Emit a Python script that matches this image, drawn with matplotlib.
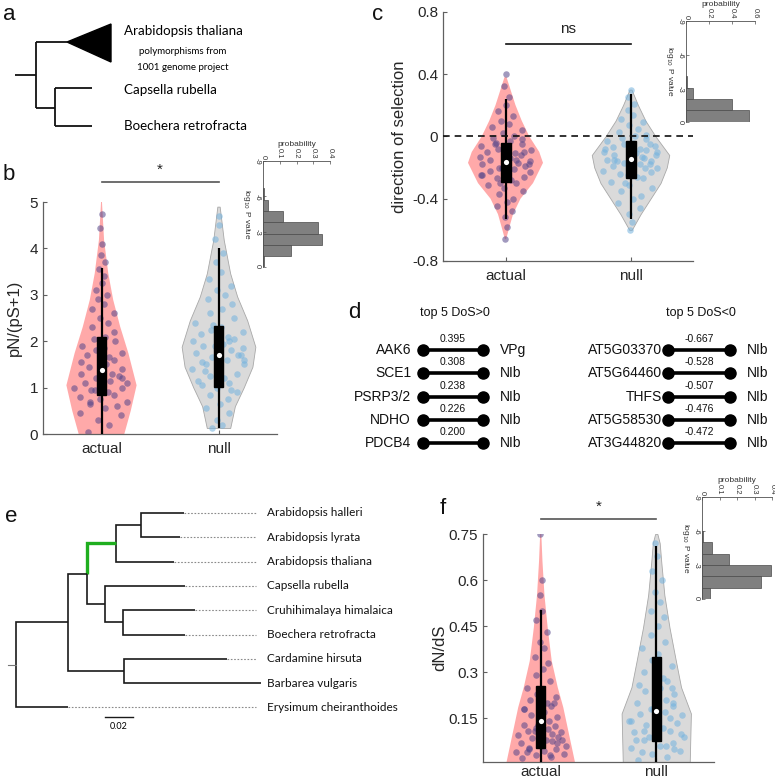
import matplotlib

matplotlib.use("Agg")
import matplotlib.pyplot as plt
import numpy as np
from matplotlib.patches import Polygon, Rectangle

plt.rcParams["font.family"] = ["Liberation Sans", "DejaVu Sans"]
TREE_FONT = ["Lato", "DejaVu Sans"]

W, H = 775, 782

# ---------------- data ----------------
groups = ["actual", "null"]

# violin outlines: y levels and half widths (x units)
b_act_lv = [0.0, 0.5, 1.05, 1.74, 2.31, 2.89, 3.46, 4.18, 5.0]
b_act_hw = [0.195, 0.25, 0.30, 0.23, 0.16, 0.10, 0.058, 0.022, 0.004]
b_null_lv = [0.13, 0.6, 1.0, 1.45, 1.88, 2.45, 2.96, 3.46, 4.18, 4.9]
b_null_hw = [0.10, 0.14, 0.215, 0.29, 0.315, 0.245, 0.16, 0.10, 0.045, 0.01]

c_act_lv = [-0.66, -0.6, -0.5, -0.4, -0.3, -0.17, -0.1, 0.0, 0.1, 0.2, 0.3, 0.38]
c_act_hw = [0.005, 0.025, 0.06, 0.12, 0.22, 0.30, 0.27, 0.19, 0.13, 0.08, 0.04, 0.008]
c_null_lv = [-0.6, -0.5, -0.4, -0.3, -0.2, -0.12, 0.0, 0.1, 0.2, 0.3]
c_null_hw = [0.01, 0.08, 0.16, 0.24, 0.29, 0.31, 0.2, 0.12, 0.06, 0.008]

f_act_lv = [0.008, 0.186, 0.251, 0.337, 0.445, 0.552, 0.66, 0.75]
f_act_hw = [0.296, 0.195, 0.147, 0.095, 0.06, 0.032, 0.015, 0.005]
f_null_lv = [0.008, 0.166, 0.251, 0.337, 0.445, 0.552, 0.66, 0.72, 0.75]
f_null_hw = [0.29, 0.30, 0.215, 0.17, 0.115, 0.07, 0.043, 0.03, 0.01]

# box stats: lower whisker, q1, median, q3, upper whisker
b_act_box = [0.0, 0.84, 1.38, 2.09, 3.57]
b_null_box = [0.12, 1.01, 1.70, 2.32, 4.0]
c_act_box = [-0.53, -0.29, -0.165, -0.04, 0.24]
c_null_box = [-0.53, -0.27, -0.145, -0.03, 0.27]
f_act_box = [0.008, 0.055, 0.14, 0.256, 0.504]
f_null_box = [0.008, 0.076, 0.173, 0.35, 0.71]

# individual genes (a readable subset), with horizontal offsets as a
# fraction of the local violin half width
jitter = [-0.62, 0.35, -0.15, 0.78, -0.84, 0.12, 0.55, -0.41, 0.9, -0.05,
          -0.72, 0.43, 0.21, -0.33, 0.67, -0.88, 0.05, 0.82, -0.52, 0.28,
          -0.19, 0.6, -0.7, 0.38, -0.02, 0.74, -0.46, 0.15, -0.8, 0.49,
          0.31, -0.6, 0.86, -0.25, 0.09, -0.9, 0.64, -0.37, 0.18, 0.71,
          -0.56, 0.42, -0.12, 0.88, -0.77, 0.25, -0.3, 0.58, -0.65, 0.02,
          0.45, -0.48, 0.8, -0.1, 0.33, -0.83, 0.6, -0.22, 0.7, -0.4]
b_act_pts = [0.05, 0.2, 0.3, 0.4, 0.45, 0.55, 0.6, 0.65, 0.7, 0.75,
             0.8, 0.85, 0.9, 0.95, 1.0, 1.0, 1.05, 1.1, 1.1, 1.15,
             1.2, 1.25, 1.3, 1.3, 1.35, 1.4, 1.45, 1.5, 1.55, 1.6,
             1.65, 1.7, 1.75, 1.8, 1.85, 1.9, 2.0, 2.05, 2.1, 2.2,
             2.3, 2.4, 2.5, 2.6, 2.7, 2.8, 2.9, 3.0, 3.1, 3.25,
             3.4, 3.55, 3.7, 3.85, 4.1, 4.45, 4.75, 0.95, 1.2, 0.7]
b_null_pts = [0.12, 0.2, 0.3, 0.45, 0.55, 0.65, 0.75, 0.85, 0.9, 1.0,
              1.05, 1.1, 1.2, 1.25, 1.3, 1.4, 1.45, 1.5, 1.55, 1.6,
              1.65, 1.7, 1.75, 1.8, 1.8, 1.85, 1.9, 1.95, 2.0, 2.05,
              2.1, 2.15, 2.2, 2.25, 2.3, 2.4, 2.5, 2.6, 2.7, 2.8,
              2.9, 3.0, 3.1, 3.2, 3.35, 3.5, 3.7, 3.9, 4.2, 4.5,
              4.7, 1.35, 1.6, 1.9, 2.0, 1.15, 0.95, 2.35, 1.7, 1.5]
c_act_pts = [-0.66, -0.58, -0.52, -0.48, -0.45, -0.42, -0.4, -0.37, -0.35, -0.33,
             -0.31, -0.3, -0.28, -0.27, -0.26, -0.25, -0.24, -0.23, -0.22, -0.21,
             -0.2, -0.19, -0.18, -0.17, -0.17, -0.16, -0.15, -0.14, -0.13, -0.12,
             -0.11, -0.1, -0.09, -0.08, -0.07, -0.06, -0.05, -0.04, -0.03, -0.02,
             -0.01, 0.0, 0.02, 0.04, 0.06, 0.08, 0.1, 0.13, 0.16, 0.2,
             0.25, 0.32, 0.4, -0.2, -0.15, -0.25, -0.1, -0.3, -0.18, -0.05]
c_null_pts = [-0.6, -0.55, -0.5, -0.46, -0.43, -0.4, -0.38, -0.35, -0.33, -0.31,
              -0.29, -0.27, -0.26, -0.24, -0.23, -0.22, -0.21, -0.2, -0.19, -0.18,
              -0.17, -0.16, -0.15, -0.14, -0.13, -0.12, -0.12, -0.11, -0.1, -0.09,
              -0.08, -0.07, -0.06, -0.05, -0.04, -0.03, -0.02, -0.01, 0.0, 0.01,
              0.03, 0.05, 0.07, 0.09, 0.11, 0.14, 0.17, 0.21, 0.25, 0.3,
              -0.2, -0.15, -0.1, -0.25, -0.13, -0.08, -0.18, -0.3, -0.05, -0.16]
f_act_pts = [0.02, 0.025, 0.03, 0.035, 0.04, 0.045, 0.05, 0.055, 0.06, 0.065,
             0.07, 0.075, 0.08, 0.085, 0.09, 0.095, 0.1, 0.105, 0.11, 0.115,
             0.12, 0.125, 0.13, 0.14, 0.15, 0.155, 0.16, 0.17, 0.18, 0.19,
             0.2, 0.21, 0.22, 0.23, 0.24, 0.25, 0.27, 0.29, 0.31, 0.33,
             0.35, 0.38, 0.4, 0.43, 0.47, 0.5, 0.55, 0.6, 0.75, 0.06,
             0.1, 0.04, 0.08, 0.13, 0.03, 0.18, 0.07, 0.11, 0.2, 0.05]
f_null_pts = [0.015, 0.025, 0.035, 0.045, 0.055, 0.06, 0.07, 0.08, 0.09, 0.1,
              0.105, 0.11, 0.12, 0.13, 0.135, 0.14, 0.15, 0.16, 0.165, 0.17,
              0.18, 0.19, 0.2, 0.21, 0.22, 0.23, 0.24, 0.25, 0.26, 0.27,
              0.28, 0.3, 0.32, 0.34, 0.36, 0.38, 0.4, 0.42, 0.45, 0.48,
              0.5, 0.53, 0.56, 0.6, 0.63, 0.68, 0.72, 0.05, 0.08, 0.12,
              0.15, 0.04, 0.1, 0.18, 0.06, 0.14, 0.2, 0.09, 0.25, 0.11]

# P-value histograms (bin edges in log10 P, probability per bin)
b_hist_edges = [-6.7, -5.7, -4.75, -3.8, -2.8, -1.9, -0.95, 0.0]
b_hist_prob = [0.005, 0.03, 0.12, 0.33, 0.355, 0.17, 0.005]
c_hist_edges = [-4.07, -3.06, -2.03, -1.05, 0.0]
c_hist_prob = [0.005, 0.058, 0.40, 0.545]
f_hist_edges = [-6.0, -5.0, -4.0, -3.0, -2.0, -1.0, 0.0]
f_hist_prob = [0.006, 0.057, 0.152, 0.396, 0.339, 0.044]

# panel d
pos_genes = ["AAK6", "SCE1", "PSRP3/2", "NDHO", "PDCB4"]
pos_dos = ["0.395", "0.308", "0.238", "0.226", "0.200"]
pos_target = ["VPg", "NIb", "NIb", "NIb", "NIb"]
neg_genes = ["AT5G03370", "AT5G64460", "THFS", "AT5G58530", "AT3G44820"]
neg_dos = ["-0.667", "-0.528", "-0.507", "-0.476", "-0.472"]
neg_target = ["NIb", "NIb", "NIb", "NIb", "NIb"]

# panel e tree: tips top to bottom, branch depth in substitutions/site
tip_names = ["Arabidopsis halleri", "Arabidopsis lyrata", "Arabidopsis thaliana",
             "Capsella rubella", "Cruhihimalaya himalaica", "Boechera retrofracta",
             "Cardamine hirsuta", "Barbarea vulgaris", "Erysimum cheiranthoides"]
tip_depth = [0.120, 0.117, 0.113, 0.121, 0.128, 0.121, 0.151, 0.175, 0.0371]
# internal nodes, listed children-first
node_depth = [0.0893, 0.0714, 0.0764, 0.0636, 0.0507, 0.0771, 0.0371, 0.0]
node_children = [("t0", "t1"), ("n0", "t2"), ("t4", "t5"), ("t3", "n2"),
                 ("n1", "n3"), ("t6", "t7"), ("n4", "n5"), ("n6", "t8")]
green_branch = "n1"
dotted_end = 0.1714

ACT_FACE = "#ffa9a9"
NULL_FACE = "#dadada"
ACT_DOT = "#54468a"
NULL_DOT = "#73b2de"


def rect(l, t, r, b):
    return [l / W, 1 - b / H, (r - l) / W, (b - t) / H]


def style_main(ax, xpad=6):
    for s in ("top", "right"):
        ax.spines[s].set_visible(False)
    for s in ("left", "bottom"):
        ax.spines[s].set_color("#606060")
        ax.spines[s].set_linewidth(0.9)
    ax.tick_params(direction="in", length=3, width=0.8, color="#606060",
                   labelsize=11, labelcolor="#262626")
    ax.tick_params(axis="x", pad=xpad)
    ax.set_xlim(0.5, 2.5)
    ax.set_xticks([1, 2])
    ax.set_xticklabels(groups)


def violin(ax, pos, lv, hw, box, pts, face, dot, edge):
    lv = np.asarray(lv)
    hw = np.asarray(hw)
    ax.fill_betweenx(lv, pos - hw, pos + hw, facecolor=face, edgecolor=edge,
                     linewidth=0.6, zorder=1)
    y = np.asarray(pts)
    n = min(len(y), len(jitter))
    y = y[:n]
    xs = pos + np.asarray(jitter[:n]) * np.interp(y, lv, hw) * 0.9
    ax.scatter(xs, y, s=22, color=dot, alpha=0.55, linewidths=0, zorder=2)
    lo, q1, med, q3, hi = box
    ax.plot([pos, pos], [lo, hi], color="black", lw=1.6, zorder=3,
            solid_capstyle="butt")
    ax.add_patch(Rectangle((pos - 0.04, q1), 0.08, q3 - q1, color="black",
                           zorder=4))
    ax.scatter([pos], [med], s=14, color="white", zorder=5, linewidths=0)


def sig_bar(ax, y, ty, text, color):
    ax.plot([1, 2], [y, y], color=color, lw=1.2, clip_on=False)
    ax.text(1.5, ty, text, ha="center", va="center", fontsize=11,
            color="#222222", clip_on=False)


def draw_hist(ax, edges, prob, xmax, xticks, xticklabels):
    edges = np.asarray(edges)
    centers = (edges[:-1] + edges[1:]) / 2
    ax.barh(centers, prob, height=np.diff(edges), left=0, color="#808080",
            edgecolor="#4a4a4a", linewidth=0.5)
    ax.set_xlim(0, xmax)
    ax.set_ylim(0, -9)
    ax.set_yticks([-9, -6, -3, 0])
    ax.set_yticklabels(["-9", "-6", "-3", "0"])
    ax.set_xticks(xticks)
    ax.set_xticklabels(xticklabels)
    ax.xaxis.tick_top()
    ax.xaxis.set_label_position("top")
    for s in ("bottom", "right"):
        ax.spines[s].set_visible(False)
    for s in ("left", "top"):
        ax.spines[s].set_color("#505050")
        ax.spines[s].set_linewidth(0.6)
    ax.tick_params(direction="in", length=2, width=0.5, labelsize=5.5,
                   pad=1.5, color="#505050", labelcolor="#333333")
    ax.tick_params(axis="x", labelrotation=-90)
    ax.tick_params(axis="y", labelrotation=-90)
    ax.set_xlabel("probability", fontsize=6, labelpad=1.5, color="#333333")
    ax.set_ylabel(r"log$_{10}$ P value", fontsize=6, rotation=-90, va="top",
                  labelpad=1.5, color="#333333")


fig = plt.figure(figsize=(W / 100, H / 100), dpi=100)


def letter(x, y, s):
    fig.text(x / W, 1 - y / H, s, fontsize=16, ha="left", va="center",
             color="#111111")


# ---------------- panel a ----------------
ax_a = fig.add_axes(rect(0, 0, 300, 140))
ax_a.set_xlim(0, 300)
ax_a.set_ylim(140, 0)
ax_a.axis("off")
kw = dict(color="#111111", lw=1.3, solid_capstyle="butt")
ax_a.plot([15, 36], [75, 75], **kw)
ax_a.plot([36, 36], [42, 108], **kw)
ax_a.plot([36, 67], [42, 42], **kw)
ax_a.add_patch(Polygon([(67, 42), (111, 24), (111, 62)], closed=True,
                       color="black"))
ax_a.plot([36, 55], [108, 108], **kw)
ax_a.plot([55, 55], [88, 126], **kw)
ax_a.plot([55, 92], [88, 88], **kw)
ax_a.plot([55, 92], [126, 126], **kw)
ax_a.text(124, 31, "Arabidopsis thaliana", fontsize=9.6, va="center",
          family=TREE_FONT)
ax_a.text(183, 52, "polymorphisms from", fontsize=7, va="center", ha="center",
          family=TREE_FONT)
ax_a.text(183, 68, "1001 genome project", fontsize=7, va="center",
          ha="center", family=TREE_FONT)
ax_a.text(124, 90, "Capsella rubella", fontsize=9.6, va="center",
          family=TREE_FONT)
ax_a.text(124, 126, "Boechera retrofracta", fontsize=9.6, va="center",
          family=TREE_FONT)
letter(3, 15, "a")

# ---------------- panel b ----------------
ax_b = fig.add_axes(rect(43, 202, 277, 434))
style_main(ax_b)
violin(ax_b, 1, b_act_lv, b_act_hw, b_act_box, b_act_pts, ACT_FACE, ACT_DOT,
       "none")
violin(ax_b, 2, b_null_lv, b_null_hw, b_null_box, b_null_pts, NULL_FACE,
       NULL_DOT, "#a8a8a8")
ax_b.set_ylim(0, 5)
ax_b.set_yticks([0, 1, 2, 3, 4, 5])
ax_b.set_ylabel("pN/(pS+1)", fontsize=12, color="#262626")
ax_b.yaxis.set_label_coords(-0.09, 0.5)
sig_bar(ax_b, 5.43, 5.69, "*", "#555555")
letter(3, 175, "b")

ax_bh = fig.add_axes(rect(263, 161, 330, 267))
draw_hist(ax_bh, b_hist_edges, b_hist_prob, 0.4, [0, 0.1, 0.2, 0.3, 0.4],
          ["0", "0.1", "0.2", "0.3", "0.4"])

# ---------------- panel c ----------------
ax_c = fig.add_axes(rect(443, 11.7, 693, 261))
style_main(ax_c)
violin(ax_c, 1, c_act_lv, c_act_hw, c_act_box, c_act_pts, ACT_FACE, ACT_DOT,
       "none")
violin(ax_c, 2, c_null_lv, c_null_hw, c_null_box, c_null_pts, NULL_FACE,
       NULL_DOT, "#a8a8a8")
ax_c.axhline(0, color="#111111", lw=1.2, ls=(0, (4, 3)), zorder=6)
ax_c.set_ylim(-0.8, 0.8)
ax_c.set_yticks([-0.8, -0.4, 0, 0.4, 0.8])
ax_c.set_yticklabels(["-0.8", "-0.4", "0", "0.4", "0.8"])
ax_c.set_ylabel("direction of selection", fontsize=12, color="#262626")
ax_c.yaxis.set_label_coords(-0.144, 0.5)
sig_bar(ax_c, 0.59, 0.69, "ns", "#111111")
letter(372, 14, "c")

ax_ch = fig.add_axes(rect(686, 21, 755, 122))
draw_hist(ax_ch, c_hist_edges, c_hist_prob, 0.6, [0, 0.2, 0.4, 0.6],
          ["0", "0.2", "0.4", "0.6"])

# ---------------- panel d ----------------
ax_d = fig.add_axes(rect(330, 295, 775, 465))
ax_d.set_xlim(330, 775)
ax_d.set_ylim(465, 295)
ax_d.axis("off")
row_y0, row_dy = 350, 23.3
groups_d = [
    (423, 483, 12, "top 5 DoS>0", pos_genes, pos_dos, pos_target),
    (668, 730, 6, "top 5 DoS<0", neg_genes, neg_dos, neg_target),
]
for x0, x1, gap, head, genes, dos, target in groups_d:
    ax_d.text((x0 + x1) / 2 + 2, 313, head, fontsize=9, ha="center",
              va="center", color="#111111")
    for i, (g, v, t) in enumerate(zip(genes, dos, target)):
        y = row_y0 + i * row_dy
        ax_d.plot([x0, x1], [y, y], color="black", lw=2.6, marker="o",
                  ms=8, solid_capstyle="butt")
        ax_d.text((x0 + x1) / 2, y - 11, v, fontsize=7.5, ha="center",
                  va="center", color="#111111")
        ax_d.text(x0 - gap, y, g, fontsize=10, ha="right", va="center",
                  color="#111111")
        ax_d.text(x1 + 17, y, t, fontsize=10, ha="left", va="center",
                  color="#111111")
letter(348, 313, "d")

# ---------------- panel e ----------------
px_per_unit, x_root_px = 1400, 16
row_px0, row_step = 513, 24.3
ax_e = fig.add_axes(rect(0, 490, 400, 735))
ax_e.set_xlim(-x_root_px / px_per_unit, (400 - x_root_px) / px_per_unit)
ax_e.set_ylim((735 - row_px0) / row_step, (490 - row_px0) / row_step)
ax_e.axis("off")

pos_y = {}
pos_x = {}
for i, d in enumerate(tip_depth):
    pos_y[f"t{i}"] = i
    pos_x[f"t{i}"] = d
for i, d in enumerate(node_depth):
    kids = node_children[i]
    pos_y[f"n{i}"] = np.mean([pos_y[k] for k in kids])
    pos_x[f"n{i}"] = d
for i, d in enumerate(node_depth):
    ny = pos_y[f"n{i}"]
    for k in node_children[i]:
        col = "#1fae1f" if k == green_branch else "#1a1a1a"
        lw = 2.4 if k == green_branch else 1.2
        ax_e.plot([d, d, pos_x[k]], [ny, pos_y[k], pos_y[k]], color=col,
                  lw=lw, solid_capstyle="butt", solid_joinstyle="miter")
root_y = pos_y[f"n{len(node_depth) - 1}"]
ax_e.plot([-8 / px_per_unit, 0], [root_y, root_y], color="#777777", lw=0.8)
for i, (name, d) in enumerate(zip(tip_names, tip_depth)):
    if d < dotted_end:
        ax_e.plot([d, dotted_end], [i, i], color="#8a8a8a", lw=0.8,
                  ls=(0, (1.5, 1.5)))
    ax_e.text((267 - x_root_px) / px_per_unit, i, name, fontsize=8.5,
              va="center", ha="left", family=TREE_FONT, color="#111111")
sb_x = (105 - x_root_px) / px_per_unit
sb_y = (717 - row_px0) / row_step
ax_e.plot([sb_x, sb_x + 0.02], [sb_y, sb_y], color="#1a1a1a", lw=1.0)
ax_e.text(sb_x + 0.01, sb_y + 0.38, "0.02", fontsize=6.5, ha="center",
          va="center", family=TREE_FONT)
letter(5, 517, "e")

# ---------------- panel f ----------------
ax_f = fig.add_axes(rect(483, 534, 714, 762))
style_main(ax_f, xpad=2.5)
violin(ax_f, 1, f_act_lv, f_act_hw, f_act_box, f_act_pts, ACT_FACE, ACT_DOT,
       "none")
violin(ax_f, 2, f_null_lv, f_null_hw, f_null_box, f_null_pts, NULL_FACE,
       NULL_DOT, "#a8a8a8")
ax_f.set_ylim(0.008, 0.75)
ax_f.set_yticks([0.15, 0.3, 0.45, 0.6, 0.75])
ax_f.set_yticklabels(["0.15", "0.3", "0.45", "0.6", "0.75"])
ax_f.set_ylabel("dN/dS", fontsize=12, color="#262626")
ax_f.yaxis.set_label_coords(-0.156, 0.5)
sig_bar(ax_f, 0.798, 0.837, "*", "#555555")
letter(440, 508, "f")

ax_fh = fig.add_axes(rect(702, 497, 772, 599))
draw_hist(ax_fh, f_hist_edges, f_hist_prob, 0.4, [0, 0.1, 0.2, 0.3, 0.4],
          ["0", "0.1", "0.2", "0.3", "0.4"])

fig.savefig("out.png", dpi=100)
